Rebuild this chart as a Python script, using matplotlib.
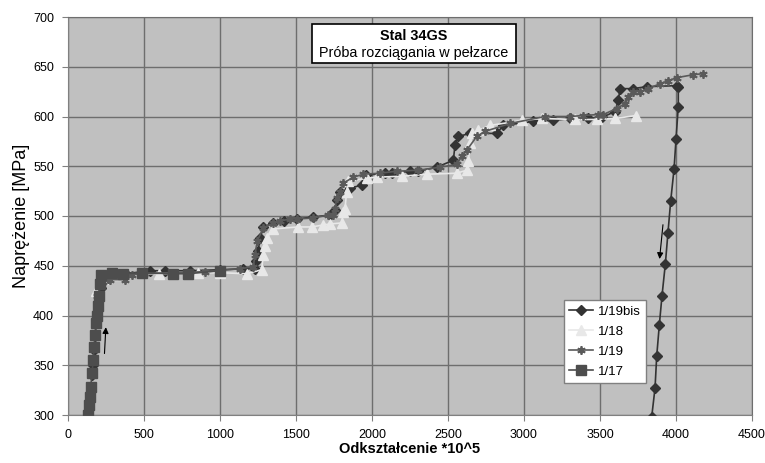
import matplotlib
matplotlib.use("Agg")
import matplotlib.pyplot as plt
from matplotlib.patches import Rectangle

plt.rcParams['font.family'] = ['Liberation Sans', 'DejaVu Sans']

# ---- data ----
labels = ["1/19bis", "1/18", "1/19", "1/17"]

x_19bis = [160, 166, 172, 178, 190, 200, 215, 240, 290, 380, 540, 638, 800, 1000, 1154, 1230,
           1240, 1250, 1265, 1285, 1351, 1420, 1504, 1614, 1724, 1757, 1767, 1789, 1855, 1932,
           1960, 2085, 2129, 2250, 2305, 2425, 2535, 2546, 2568, 2645, 2820, 2864, 3061, 3193,
           3303, 3423, 3511, 3599, 3621, 3632, 3717, 3807, 4004, 4015, 4015, 4000, 3987, 3965,
           3947, 3930, 3908, 3890, 3873, 3862, 3840]
y_19bis = [340, 350, 365, 379, 400, 414, 428, 436, 440, 442, 445, 445, 445, 446, 447, 447,
           455, 465, 478, 489, 493, 495, 497, 499, 501, 506, 516, 524, 528, 531,
           541, 543, 543, 545, 545, 549, 556, 571, 580, 583, 583, 591, 595, 596,
           598, 598, 599, 605, 617, 628, 628, 630, 631, 630, 610, 577, 547, 515,
           483, 452, 420, 390, 359, 327, 298]

x_18 = [185, 230, 320, 600, 857, 1000, 1175, 1274, 1285, 1296, 1307, 1351, 1515, 1603, 1680,
        1724, 1800, 1811, 1822, 1833, 1844, 1965, 2031, 2200, 2360, 2557, 2623, 2634, 2645,
        2656, 2700, 2776, 2985, 3116, 3336, 3478, 3599, 3737]
y_18 = [425, 437, 441, 442, 443, 443, 442, 446, 461, 470, 478, 487, 489, 489, 491,
        492, 493, 504, 507, 524, 535, 538, 539, 540, 542, 543, 546, 555, 573,
        583, 586, 591, 596, 598, 597, 597, 598, 601]

x_19 = [190, 232, 265, 276, 375, 419, 500, 700, 900, 1132, 1219, 1230, 1245, 1285, 1351, 1395,
        1461, 1504, 1614, 1713, 1745, 1757, 1767, 1789, 1811, 1877, 1943, 2050, 2162, 2300,
        2447, 2560, 2590, 2623, 2689, 2743, 2908, 3138, 3303, 3390, 3489, 3522, 3609, 3664,
        3686, 3719, 3763, 3818, 3895, 3949, 4004, 4114, 4175]
y_19 = [420, 434, 437, 436, 436, 441, 442, 443, 444, 447, 449, 461, 475, 488, 493, 495,
        497, 497, 498, 501, 501, 507, 518, 524, 533, 539, 542, 543, 545, 546,
        549, 552, 560, 566, 580, 585, 593, 600, 600, 601, 602, 602, 608, 613,
        620, 625, 625, 628, 633, 636, 639, 642, 643]

x_17 = [130, 138, 145, 150, 158, 166, 172, 178, 185, 190, 196, 204, 210, 215, 290, 364,
        485, 693, 792, 1000]
y_17 = [300, 310, 318, 328, 342, 355, 368, 380, 392, 400, 410, 420, 432, 441, 443, 442,
        443, 442, 442, 445]

x_ticks = [0, 500, 1000, 1500, 2000, 2500, 3000, 3500, 4000, 4500]
y_ticks = [300, 350, 400, 450, 500, 550, 600, 650, 700]

title_1 = "Stal 34GS"
title_2 = "Próba rozciągania w pełzarce"
x_label = "Odkształcenie *10^5"
y_label = "Naprężenie [MPa]"

# ---- figure ----
fig = plt.figure(figsize=(7.65, 4.63), dpi=100)
ax = fig.add_axes([68/765, 48/463, 684/765, 398/463])
ax.set_facecolor('#c0c0c0')

ax.plot(x_19bis, y_19bis, color='#333333', lw=1.2, marker='D', ms=4.8,
        mfc='#333333', mec='#333333', label=labels[0], zorder=3)
ax.plot(x_18, y_18, color='#e8e8e8', lw=1.2, marker='^', ms=6.5,
        mfc='#e8e8e8', mec='#e8e8e8', label=labels[1], zorder=4)
ax.plot(x_19, y_19, color='#5a5a5a', lw=1.2, marker=(6, 2, 0), ms=6,
        mfc='#5a5a5a', mec='#5a5a5a', mew=1.3, label=labels[2], zorder=5)
ax.plot(x_17, y_17, color='#4d4d4d', lw=1.2, marker='s', ms=7,
        mfc='#4d4d4d', mec='#4d4d4d', label=labels[3], zorder=6)

ax.set_xlim(0, 4500)
ax.set_ylim(300, 700)
ax.set_xticks(x_ticks)
ax.set_yticks(y_ticks)
ax.grid(True, color='#6e6e6e', lw=1.0, zorder=0)
ax.set_axisbelow(True)
for s in ['top', 'right']:
    ax.spines[s].set_color('#6e6e6e')
for s in ['left', 'bottom']:
    ax.spines[s].set_color('#808080')
ax.tick_params(axis='both', labelsize=9, length=4, color='#808080', pad=6)

ax.set_xlabel(x_label, fontsize=10.5, fontweight='bold', labelpad=1)
ax.set_ylabel(y_label, fontsize=13, labelpad=2)

# arrows
ax.annotate('', xy=(250, 391), xytext=(239, 359),
            arrowprops=dict(arrowstyle='-|>', color='black', lw=0.8, mutation_scale=9), zorder=7)
ax.annotate('', xy=(3890, 454), xytext=(3916, 494),
            arrowprops=dict(arrowstyle='-|>', color='black', lw=0.8, mutation_scale=9), zorder=7)

# title box
ax.add_patch(Rectangle((0.357, 0.884), 0.298, 0.098, transform=ax.transAxes,
                       facecolor='white', edgecolor='black', lw=1.2, zorder=8))
ax.text(0.506, 0.953, title_1, transform=ax.transAxes, ha='center', va='center',
        fontsize=10.4, fontweight='bold', zorder=9)
ax.text(0.506, 0.910, title_2, transform=ax.transAxes, ha='center', va='center',
        fontsize=10.4, zorder=9)

leg = ax.legend(loc='lower left', bbox_to_anchor=(0.715, 0.063), fontsize=9.5,
                frameon=True, fancybox=False, framealpha=1, facecolor='white',
                edgecolor='#808080', handlelength=1.8, borderpad=0.4, labelspacing=0.6,
                handletextpad=0.4)
leg.set_zorder(10)

fig.savefig('out.png', dpi=100, facecolor='white')
